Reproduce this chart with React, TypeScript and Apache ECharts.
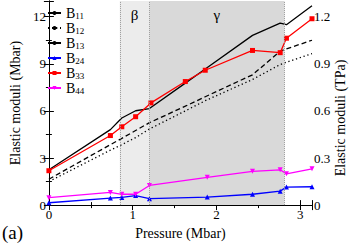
import React, { useEffect, useRef } from "react";
import * as echarts from "echarts";

const pressure = [0, 0.734, 0.87, 1.035, 1.2, 1.628, 1.866, 2.43, 2.76, 2.835, 3.14];
const b11 = [2.25, 4.81, 5.55, 6.01, 6.15, 7.77, 8.67, 10.81, 11.59, 11.49, 12.7];
const b12 = [1.5, 3.5, 3.85, 4.3, 4.85, 6.0, 6.65, 8.0, 8.95, 9.1, 9.65];
const b13 = [1.65, 3.85, 4.25, 4.75, 5.25, 6.3, 6.9, 8.3, 9.8, 9.95, 10.5];
const p33 = [0, 0.734, 0.87, 1.035, 1.218, 1.628, 1.866, 2.43, 2.76, 2.835, 3.14];
const b33 = [2.19, 4.43, 4.99, 5.63, 6.51, 7.87, 8.59, 9.85, 9.71, 10.63, 11.87];
const p44 = [0, 0.734, 0.87, 1.035, 1.2, 1.89, 2.43, 2.76, 2.835, 3.14];
const b24 = [0.15, 0.45, 0.49, 0.61, 0.41, 0.51, 0.69, 0.89, 1.15, 1.17];
const b44 = [0.47, 0.81, 0.69, 0.69, 1.25, 1.77, 2.15, 2.25, 1.99, 2.31];
const phaseBounds = [0.846, 1.2, 2.81];
const phaseNames = ["β", "γ"];
const xTicks = [0, 1, 2, 3];

const zip = (xs: number[], ys: number[]) => xs.map((x, i) => [x, ys[i]]);
const SERIF = "'Liberation Serif', 'Times New Roman', Times, 'DejaVu Serif', serif";

export default function App() {
  const ref = useRef<HTMLDivElement>(null);
  useEffect(() => {
    if (!ref.current) return;
    const chart = echarts.init(ref.current, null, { renderer: "svg" });
    const axisCommon = {
      axisLine: { show: true, lineStyle: { color: "#000", width: 1 } },
      axisTick: { show: true, inside: true, length: 5, lineStyle: { color: "#000" } },
      minorTick: { show: true, splitNumber: 2, length: 3, lineStyle: { color: "#000" } },
      splitLine: { show: false },
    };
    const labelStyle = { color: "#000", fontFamily: SERIF, fontSize: 13 };
    const legendData = ["B11", "B12", "B13", "B24", "B33", "B44"];
    chart.setOption({
      animation: false,
      textStyle: { fontFamily: SERIF },
      grid: { left: 31, right: 37, top: 1, bottom: 27.5 },
      xAxis: [
        {
          type: "value", min: 0, max: 3.14, interval: 1, position: "bottom",
          ...axisCommon,
          axisLabel: {
            ...labelStyle, margin: 3,
            formatter: (v: number) => (xTicks.includes(v) ? String(v) : ""),
          },
          name: "Pressure (Mbar)", nameLocation: "middle", nameGap: 14,
          nameTextStyle: { ...labelStyle, fontSize: 14 },
        },
        {
          type: "value", min: 0, max: 3.14, interval: 1, position: "top",
          ...axisCommon, axisLabel: { show: false },
        },
      ],
      yAxis: [
        {
          type: "value", min: 0, max: 13, interval: 3, position: "left",
          ...axisCommon,
          axisLabel: {
            ...labelStyle, margin: 3,
            formatter: (v: number) => (v % 3 === 0 ? String(v) : ""),
          },
          name: "Elastic moduli (Mbar)", nameLocation: "middle", nameGap: 15, nameRotate: 90,
          nameTextStyle: { ...labelStyle, fontSize: 14 },
        },
        {
          type: "value", min: 0, max: 1.3, interval: 0.3, position: "right",
          ...axisCommon,
          axisLabel: {
            ...labelStyle, margin: 2,
            formatter: (v: number) => {
              const r = Math.round(v * 10) / 10;
              return Math.round(r * 10) % 3 === 0 ? String(r) : "";
            },
          },
        },
      ],
      legend: {
        data: legendData,
        orient: "vertical", left: 42, top: 0,
        itemWidth: 13, itemHeight: 5, itemGap: 0,
        formatter: (n: string) => `{b|B}{s|${n.slice(1)}}`,
        textStyle: {
          color: "#000", fontFamily: SERIF,
          rich: {
            b: { fontSize: 14, fontFamily: SERIF, color: "#000", verticalAlign: "top", lineHeight: 14 },
            s: { fontSize: 9, fontFamily: SERIF, color: "#000", verticalAlign: "bottom", lineHeight: 9, padding: [6, 0, 0, 0] },
          },
        },
      },
      graphic: [
        { type: "text", left: 2, top: 223, style: { text: "(a)", fontSize: 19, fontFamily: SERIF, fill: "#000" } },
        {
          type: "text", x: 340, y: 118, rotation: Math.PI / 2,
          style: { text: "Elastic moduli (TPa)", fontSize: 14, fontFamily: SERIF, fill: "#000", align: "center", verticalAlign: "middle" },
        },
      ],
      series: [
        {
          name: "bg", type: "line", data: [], z: 0, silent: true,
          markArea: {
            silent: true,
            label: { show: true, position: "insideTop", distance: 6, color: "#000", fontFamily: SERIF, fontSize: 15 },
            data: [
              [{ xAxis: phaseBounds[0], name: phaseNames[0], itemStyle: { color: "#ececec" } }, { xAxis: phaseBounds[1] }],
              [{ xAxis: phaseBounds[1], name: phaseNames[1], itemStyle: { color: "#d9d9d9" } }, { xAxis: phaseBounds[2] }],
            ],
          },
          markLine: {
            silent: true, symbol: "none", label: { show: false },
            lineStyle: { color: "#999", type: "dotted", width: 1 },
            data: phaseBounds.map((x) => ({ xAxis: x })),
          },
        },
        {
          name: "B11", type: "line", data: zip(pressure, b11), symbol: "none", z: 3,
          lineStyle: { color: "#000", width: 1.3 }, itemStyle: { color: "#000" },
        },
        {
          name: "B12", type: "line", data: zip(pressure, b12), symbol: "none", z: 3,
          lineStyle: { color: "#000", width: 1.3, type: [1.3, 2.7] }, itemStyle: { color: "#000" },
        },
        {
          name: "B13", type: "line", data: zip(pressure, b13), symbol: "none", z: 3,
          lineStyle: { color: "#000", width: 1.3, type: [5, 3] }, itemStyle: { color: "#000" },
        },
        {
          name: "B24", type: "line", data: zip(p44, b24), symbol: "triangle", symbolSize: 5, z: 3,
          lineStyle: { color: "#0000ff", width: 1.3 }, itemStyle: { color: "#0000ff" },
        },
        {
          name: "B33", type: "line", data: zip(p33, b33), symbol: "rect", symbolSize: 5, z: 3,
          lineStyle: { color: "#ff0000", width: 1.3 }, itemStyle: { color: "#ff0000" },
        },
        {
          name: "B44", type: "line", data: zip(p44, b44), symbol: "triangle", symbolRotate: 180, symbolSize: 5, z: 3,
          lineStyle: { color: "#ff00ff", width: 1.3 }, itemStyle: { color: "#ff00ff" },
        },
      ],
    });
    return () => chart.dispose();
  }, []);
  return <div ref={ref} style={{ width: 349, height: 245, position: "absolute", left: 0, top: 0 }} />;
}
